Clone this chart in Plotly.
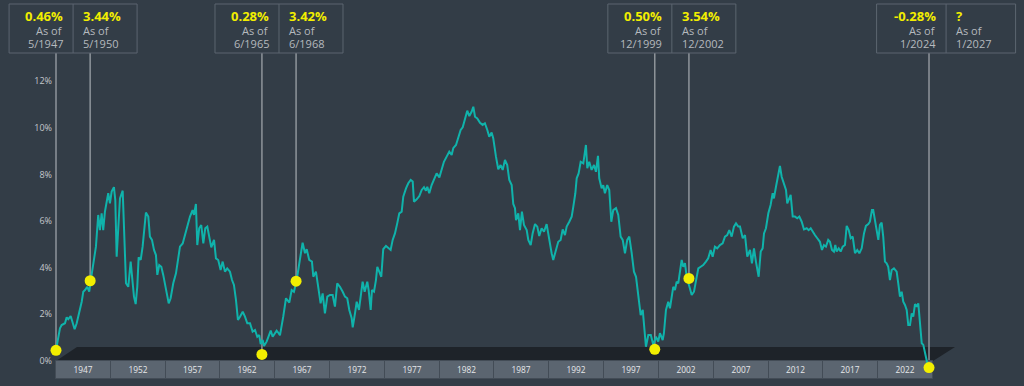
import plotly.graph_objects as go

# ---------------- data ----------------
rate_years = [
    1947.33, 1947.68, 1947.83, 1948.12, 1948.27, 1948.41, 1948.62, 1948.80, 1948.97, 1949.15,
    1949.38, 1949.59, 1949.73, 1949.88, 1950.08, 1950.25, 1950.46, 1950.67, 1950.84, 1951.04,
    1951.19, 1951.34, 1951.48, 1951.63, 1951.78, 1951.92, 1952.07, 1952.22, 1952.42, 1952.54,
    1952.66, 1952.80, 1952.95, 1953.19, 1953.30, 1953.48, 1953.68, 1953.89, 1954.07, 1954.18,
    1954.33, 1954.47, 1954.59, 1954.77, 1954.94, 1955.08, 1955.23, 1955.44, 1955.58, 1955.76,
    1955.94, 1956.11, 1956.23, 1956.40, 1956.58, 1956.75, 1956.99, 1957.23, 1957.40, 1957.63,
    1957.87, 1958.07, 1958.22, 1958.46, 1958.66, 1958.81, 1958.95, 1959.10, 1959.33, 1959.45,
    1959.62, 1959.74, 1959.91, 1960.09, 1960.27, 1960.44, 1960.62, 1960.79, 1960.97, 1961.21,
    1961.38, 1961.58, 1961.79, 1961.97, 1962.17, 1962.37, 1962.61, 1962.79, 1962.96, 1963.14,
    1963.31, 1963.49, 1963.73, 1963.93, 1964.13, 1964.37, 1964.60, 1964.81, 1965.01, 1965.18,
    1965.31, 1965.48, 1965.60, 1965.83, 1966.01, 1966.19, 1966.36, 1966.56, 1966.71, 1966.89,
    1967.00, 1967.29, 1967.53, 1967.82, 1968.03, 1968.23, 1968.47, 1968.70, 1968.99, 1969.20,
    1969.35, 1969.57, 1969.81, 1969.93, 1970.16, 1970.36, 1970.57, 1970.75, 1970.95, 1971.16,
    1971.39, 1971.63, 1971.83, 1972.03, 1972.27, 1972.51, 1972.71, 1972.91, 1973.09, 1973.30,
    1973.39, 1973.59, 1973.74, 1973.94, 1974.09, 1974.26, 1974.44, 1974.67, 1974.79, 1974.97,
    1975.08, 1975.26, 1975.43, 1975.55, 1975.72, 1975.90, 1976.07, 1976.31, 1976.55, 1976.72,
    1976.90, 1977.10, 1977.30, 1977.48, 1977.69, 1977.83, 1978.07, 1978.27, 1978.48, 1978.66,
    1978.77, 1979.01, 1979.24, 1979.45, 1979.65, 1979.82, 1979.94, 1980.11, 1980.32, 1980.53,
    1980.76, 1981.00, 1981.20, 1981.40, 1981.64, 1981.87, 1982.08, 1982.22, 1982.46, 1982.66,
    1982.87, 1983.05, 1983.25, 1983.45, 1983.63, 1983.84, 1983.98, 1984.13, 1984.33, 1984.57,
    1984.80, 1985.00, 1985.21, 1985.38, 1985.59, 1985.73, 1985.97, 1986.17, 1986.38, 1986.56,
    1986.76, 1986.96, 1987.14, 1987.35, 1987.49, 1987.64, 1987.73, 1987.93, 1988.08, 1988.25,
    1988.43, 1988.67, 1988.81, 1989.02, 1989.19, 1989.40, 1989.60, 1989.77, 1989.98, 1990.19,
    1990.42, 1990.65, 1990.86, 1991.00, 1991.24, 1991.44, 1991.65, 1991.83, 1992.03, 1992.18,
    1992.41, 1992.62, 1992.76, 1992.94, 1993.06, 1993.23, 1993.41, 1993.64, 1993.87, 1993.99,
    1994.16, 1994.37, 1994.58, 1994.75, 1994.93, 1995.04, 1995.25, 1995.39, 1995.54, 1995.74,
    1995.92, 1996.10, 1996.27, 1996.51, 1996.71, 1996.92, 1997.10, 1997.30, 1997.50, 1997.68,
    1997.89, 1998.09, 1998.27, 1998.47, 1998.68, 1998.86, 1998.97, 1999.14, 1999.35, 1999.57,
    1999.79, 2000.02, 2000.22, 2000.37, 2000.61, 2000.72, 2000.90, 2001.10, 2001.25, 2001.40,
    2001.54, 2001.69, 2001.84, 2001.98, 2002.13, 2002.28, 2002.42, 2002.57, 2002.72, 2002.95,
    2003.16, 2003.36, 2003.53, 2003.74, 2003.95, 2004.17, 2004.41, 2004.61, 2004.82, 2005.00,
    2005.20, 2005.40, 2005.64, 2005.88, 2006.08, 2006.28, 2006.46, 2006.67, 2006.87, 2007.05,
    2007.25, 2007.40, 2007.64, 2007.84, 2008.04, 2008.28, 2008.45, 2008.63, 2008.80, 2009.04,
    2009.22, 2009.39, 2009.51, 2009.68, 2009.89, 2010.09, 2010.27, 2010.38, 2010.56, 2010.76,
    2010.91, 2011.06, 2011.26, 2011.44, 2011.55, 2011.73, 2011.85, 2012.03, 2012.23, 2012.43,
    2012.61, 2012.82, 2013.02, 2013.26, 2013.43, 2013.61, 2013.78, 2013.98, 2014.19, 2014.42,
    2014.60, 2014.77, 2014.95, 2015.15, 2015.30, 2015.48, 2015.65, 2015.77, 2015.89, 2016.07,
    2016.24, 2016.42, 2016.62, 2016.77, 2016.95, 2017.12, 2017.30, 2017.50, 2017.70, 2017.88,
    2018.09, 2018.29, 2018.46, 2018.67, 2018.81, 2018.99, 2019.10, 2019.25, 2019.40, 2019.55,
    2019.69, 2019.84, 2019.98, 2020.13, 2020.28, 2020.42, 2020.57, 2020.72, 2020.92, 2021.16,
    2021.30, 2021.45, 2021.60, 2021.74, 2021.89, 2022.04, 2022.18, 2022.33, 2022.48, 2022.62,
    2022.77, 2022.92, 2023.06, 2023.21, 2023.36, 2023.50, 2023.65, 2023.85, 2024.00,
]
rate_values = [
    0.46, 1.40, 1.54, 1.62, 1.87, 1.79, 1.93, 1.62, 1.36, 1.62,
    2.04, 2.54, 2.97, 3.04, 3.18, 2.97, 3.69, 4.33, 4.90, 6.26,
    5.61, 6.33, 5.61, 6.40, 6.76, 7.19, 6.76, 7.26, 7.45, 6.90,
    4.47, 5.76, 6.97, 7.30, 5.76, 3.33, 3.18, 4.26, 3.33, 2.76,
    2.44, 3.18, 4.44, 4.33, 4.90, 5.76, 6.36, 6.19, 5.33, 5.19,
    4.76, 4.54, 3.69, 4.11, 4.04, 3.69, 3.04, 2.47, 2.69, 3.33,
    3.76, 4.40, 4.90, 5.04, 5.40, 5.61, 5.83, 6.19, 6.47, 6.26,
    6.73, 4.97, 5.69, 5.83, 5.04, 5.69, 5.76, 5.33, 4.87, 5.19,
    4.40, 4.33, 3.90, 4.26, 3.83, 3.97, 3.83, 3.47, 3.26, 2.61,
    1.76, 1.90, 2.11, 1.90, 1.62, 1.62, 1.26, 1.33, 1.04, 1.11,
    0.72, 0.90, 0.64, 0.83, 1.11, 1.30, 1.04, 1.19, 1.30, 1.19,
    1.10, 1.90, 2.69, 2.50, 3.04, 2.97, 3.47, 4.19, 5.07, 4.62,
    4.79, 4.33, 4.26, 3.61, 3.83, 3.18, 2.47, 2.90, 2.04, 2.76,
    2.83, 2.83, 2.33, 3.33, 3.18, 2.97, 2.76, 2.69, 2.19, 1.83,
    1.44, 2.04, 2.54, 2.19, 2.83, 3.40, 2.97, 3.40, 3.04, 2.19,
    3.04, 2.97, 3.47, 4.04, 3.83, 3.61, 4.79, 4.93, 4.83, 4.76,
    5.19, 5.47, 5.90, 6.33, 6.40, 7.04, 7.40, 7.62, 7.76, 7.69,
    6.83, 6.93, 7.07, 7.33, 7.45, 7.30, 7.47, 7.19, 7.54, 7.76,
    8.04, 7.87, 8.19, 8.54, 8.76, 8.97, 8.83, 9.12, 9.26, 9.61,
    9.90, 10.02, 10.40, 10.73, 10.50, 10.69, 10.90, 10.47, 10.40, 10.21,
    10.12, 10.19, 9.90, 9.61, 9.79, 9.55, 8.76, 8.22, 8.40, 8.19,
    8.62, 8.40, 7.76, 7.54, 6.73, 6.55, 6.04, 6.33, 5.61, 6.40,
    5.83, 5.61, 5.19, 4.97, 5.47, 5.87, 5.76, 5.36, 5.69, 5.54,
    5.87, 5.11, 4.62, 4.33, 4.76, 5.11, 5.19, 5.64, 5.40, 5.76,
    5.97, 6.19, 6.61, 7.19, 7.83, 8.04, 8.54, 8.47, 9.26, 8.26,
    8.54, 8.19, 8.40, 8.11, 8.79, 7.83, 7.40, 7.54, 7.19, 7.54,
    7.33, 5.97, 6.47, 6.55, 6.26, 5.33, 5.19, 4.62, 5.19, 5.33,
    4.62, 3.83, 3.61, 2.76, 1.97, 2.19, 1.62, 0.61, 1.11, 1.11,
    0.69, 1.04, 0.83, 1.19, 0.90, 1.19, 2.19, 2.54, 2.26, 2.83,
    3.18, 3.04, 3.40, 3.33, 3.90, 4.33, 4.04, 4.19, 3.61, 3.18,
    2.83, 2.97, 3.47, 3.97, 4.04, 4.11, 4.26, 4.40, 4.76, 4.47,
    4.90, 4.83, 4.97, 5.04, 5.33, 5.40, 5.61, 5.33, 5.76, 5.90,
    5.76, 5.76, 5.26, 5.40, 4.47, 4.76, 4.19, 4.83, 4.26, 3.61,
    4.69, 4.83, 5.47, 5.69, 6.33, 6.69, 7.19, 6.97, 7.47, 7.97,
    8.36, 7.90, 7.62, 7.33, 6.76, 6.97, 7.12, 6.19, 6.19, 6.12,
    6.19, 5.97, 5.64, 5.69, 5.61, 5.69, 5.54, 5.40, 5.26, 5.11,
    4.76, 4.97, 4.90, 5.19, 5.11, 4.76, 4.69, 4.97, 4.69, 4.83,
    4.69, 4.90, 4.97, 5.79, 5.61, 5.26, 5.33, 4.62, 4.76, 4.62,
    4.83, 5.47, 5.79, 5.87, 5.97, 6.47, 6.47, 5.97, 5.61, 5.19,
    5.83, 5.93, 5.33, 4.26, 4.19, 4.04, 3.47, 3.90, 3.97, 3.83,
    3.33, 2.76, 2.97, 2.54, 2.40, 2.19, 1.54, 1.54, 2.04, 1.90,
    2.44, 2.33, 2.47, 1.62, 0.76, 0.69, 0.33, -0.10, -0.28,
]

category_labels = ["1947", "1952", "1957", "1962", "1967", "1972", "1977", "1982",
                   "1987", "1992", "1997", "2002", "2007", "2012", "2017", "2022"]
y_tick_values = [0, 2, 4, 6, 8, 10, 12]

start_values = [0.46, 0.28, 0.50, -0.28]
start_dates = ["5/1947", "6/1965", "12/1999", "1/2024"]
end_values = [3.44, 3.42, 3.54, None]
end_dates = ["5/1950", "6/1968", "12/2002", "1/2027"]

# ---------------- geometry / styles ----------------
W, H = 1024, 386
PX_PER_YEAR = 11.387
X0 = 1947.333 - 56 / PX_PER_YEAR
X_RANGE = [X0, X0 + W / PX_PER_YEAR]
PX_PER_PCT = 23.33
Y_TOP = 361 / PX_PER_PCT
Y_RANGE = [Y_TOP - H / PX_PER_PCT, Y_TOP]

BOX_W_PX = 54.81
CAT_LEFT_PX = 56

BG = "#333d47"
FLOOR = "#1e2329"
TEAL = "#10b3ab"
YELLOW = "#f2ee00"
GREY_TXT = "#b5b9be"
BOX_LINE = "#5c6570"
CALLOUT_LINE = "#8f959b"
FONT = "Open Sans, Segoe UI, DejaVu Sans, sans-serif"


def xd(px):
    return X0 + px / PX_PER_YEAR


def xpx(year):
    return (year - X0) * PX_PER_YEAR


def yd(py):
    return Y_TOP - py / PX_PER_PCT


def ypaper(py):
    return 1 - py / H


def dec(d):
    m, y = d.split("/")
    return int(y) + (int(m) - 1) / 12


fig = go.Figure()

# category boxes under the floor (placed on the time axis)
box_centers = [xd(CAT_LEFT_PX + (i + 0.5) * BOX_W_PX) for i in range(len(category_labels))]
fig.add_trace(go.Bar(
    x=box_centers,
    y=[yd(361) - yd(379)] * len(category_labels),
    base=[yd(379)] * len(category_labels),
    width=BOX_W_PX / PX_PER_YEAR,
    marker=dict(color="#5b6570", line=dict(color="#434c56", width=1)),
    text=category_labels, textposition="inside", insidetextanchor="middle",
    textangle=0,
    textfont=dict(size=9, color="#e6e8ea", family=FONT),
    hoverinfo="skip", showlegend=False,
))

# main line
fig.add_trace(go.Scatter(
    x=rate_years, y=rate_values, mode="lines",
    line=dict(color=TEAL, width=2),
    hoverinfo="skip", showlegend=False,
))

shapes = []
annotations = []

# floor (dark 3D band)
fx = [xd(56), xd(77), xd(955), xd(933)]
fy = [yd(361), yd(347), yd(347), yd(361)]
shapes.append(dict(
    type="path", xref="x", yref="y", layer="below",
    path=f"M {fx[0]},{fy[0]} L {fx[1]},{fy[1]} L {fx[2]},{fy[2]} L {fx[3]},{fy[3]} Z",
    fillcolor=FLOOR, line=dict(width=0),
))

half_widths = [64, 64, 64, 69.5]
dot_x, dot_y = [], []
box_top, box_bot = 4, 53
for i in range(len(start_values)):
    xs, xe = dec(start_dates[i]), dec(end_dates[i])
    mid_px = (xpx(xs) + xpx(xe)) / 2
    hw = half_widths[i]
    shapes.append(dict(type="rect", xref="paper", yref="paper",
                       x0=(mid_px - hw) / W, x1=(mid_px + hw) / W,
                       y0=ypaper(box_bot), y1=ypaper(box_top),
                       line=dict(color=BOX_LINE, width=1), fillcolor="rgba(0,0,0,0)"))
    shapes.append(dict(type="line", xref="paper", yref="paper",
                       x0=mid_px / W, x1=mid_px / W,
                       y0=ypaper(box_bot), y1=ypaper(box_top),
                       line=dict(color=BOX_LINE, width=1)))
    for xv, vv in ((xs, start_values[i]), (xe, end_values[i])):
        if vv is None:
            continue
        shapes.append(dict(type="line", xref="x", yref="y", layer="below",
                           x0=xv, x1=xv, y0=yd(box_bot), y1=vv,
                           line=dict(color=CALLOUT_LINE, width=1.5)))
        dot_x.append(xv)
        dot_y.append(vv)
    sides = [
        (start_values[i], start_dates[i], "right", (mid_px - 8) / W),
        (end_values[i], end_dates[i], "left", (mid_px + 8) / W),
    ]
    for val, date, anchor, xp in sides:
        vtxt = "?" if val is None else f"{val:.2f}%"
        annotations.append(dict(xref="paper", yref="paper", x=xp, y=ypaper(16),
                                xanchor=anchor, yanchor="middle", showarrow=False,
                                text=f"<b>{vtxt}</b>",
                                font=dict(size=13, color=YELLOW, family=FONT)))
        annotations.append(dict(xref="paper", yref="paper", x=xp, y=ypaper(31),
                                xanchor=anchor, yanchor="middle", showarrow=False,
                                text="As of", font=dict(size=11, color=GREY_TXT, family=FONT)))
        annotations.append(dict(xref="paper", yref="paper", x=xp, y=ypaper(43.5),
                                xanchor=anchor, yanchor="middle", showarrow=False,
                                text=date, font=dict(size=11, color=GREY_TXT, family=FONT)))

fig.add_trace(go.Scatter(
    x=dot_x, y=dot_y, mode="markers",
    marker=dict(color=YELLOW, size=11, line=dict(width=0)),
    hoverinfo="skip", showlegend=False,
))

fig.update_layout(
    width=W, height=H,
    margin=dict(l=0, r=0, t=0, b=0, pad=0),
    paper_bgcolor=BG, plot_bgcolor=BG,
    showlegend=False,
    bargap=0,
    xaxis=dict(range=X_RANGE, visible=False, domain=[0, 1], fixedrange=True),
    yaxis=dict(range=Y_RANGE, anchor="free", position=52 / W, side="left",
               tickvals=y_tick_values, ticktext=[f"{v}%" for v in y_tick_values],
               showgrid=False, zeroline=False, showline=False, ticks="",
               tickfont=dict(size=9, color="#c3c7cc", family=FONT), fixedrange=True),
    shapes=shapes,
    annotations=annotations,
    font=dict(family=FONT),
)

fig.write_html("out.html", config={"displayModeBar": False},
               post_script="document.body.style.margin='0';")
